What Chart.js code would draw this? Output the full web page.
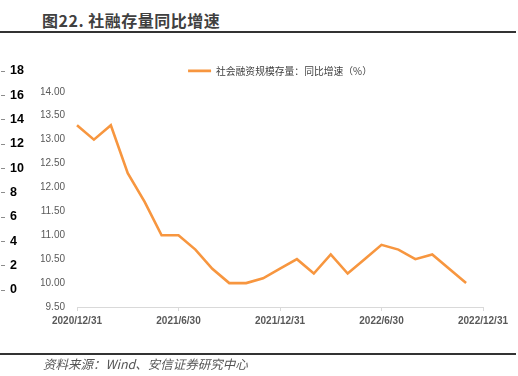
<!DOCTYPE html>
<html>
<head>
<meta charset="utf-8">
<script src="https://cdn.jsdelivr.net/npm/chart.js@4/dist/chart.umd.min.js"></script>
<style>
    html, body { margin: 0; padding: 0; background: #fff; }
    .page { position: relative; width: 518px; height: 376px; overflow: hidden; font-family: "Noto Sans CJK SC", sans-serif; }
    .title { position: absolute; left: 42px; top: 10px; font-size: 16px; line-height: 20px; font-weight: bold; letter-spacing: 0.5px; color: #404040; }
    .rule { position: absolute; left: 0; width: 516px; height: 2px; background: #333; }
    .source { position: absolute; left: 43px; top: 356px; font-size: 12.5px; line-height: 16px; font-style: italic; color: #555; }
    #main_chart { position: absolute; left: 0; top: 0; }
    #side_axis { position: absolute; left: -9px; top: 0; }
</style>
</head>
<body>
<div class="page">
    <div class="title">图22. 社融存量同比增速</div>
    <div class="rule" style="top: 31px"></div>
    <canvas id="main_chart" width="518" height="376"></canvas>
    <canvas id="side_axis" width="40" height="376"></canvas>
    <div class="rule" style="top: 353px"></div>
    <div class="source">资料来源：Wind、安信证券研究中心</div>
</div>
<script>
const dates = [
    '2020/12/31', '2021/1/31', '2021/2/28', '2021/3/31', '2021/4/30', '2021/5/31', '2021/6/30',
    '2021/7/31', '2021/8/31', '2021/9/30', '2021/10/31', '2021/11/30', '2021/12/31',
    '2022/1/31', '2022/2/28', '2022/3/31', '2022/4/30', '2022/5/31', '2022/6/30',
    '2022/7/31', '2022/8/31', '2022/9/30', '2022/10/31', '2022/11/30', '2022/12/31'
]
const growth = [
    13.3, 13.0, 13.3, 12.3, 11.7, 11.0, 11.0,
    10.7, 10.3, 10.0, 10.0, 10.1, 10.3,
    10.5, 10.2, 10.6, 10.2, 10.5, 10.8,
    10.7, 10.5, 10.6, 10.3, 10.0, null
]
const seriesName = '社会融资规模存量：同比增速（%）'
const yTicks = [9.5, 10, 10.5, 11, 11.5, 12, 12.5, 13, 13.5, 14]
const sideTicks = [0, 2, 4, 6, 8, 10, 12, 14, 16, 18]

const tickFont = { family: '"Liberation Sans", Arial, sans-serif', size: 10 }

// a little more room under the legend
const legendGap = {
    id: 'legendGap',
    beforeInit(chart) {
        const fit = chart.legend.fit
        chart.legend.fit = function () {
            fit.bind(chart.legend)()
            this.height += 6
        }
    }
}

// main line chart
new Chart(document.getElementById('main_chart').getContext('2d'), {
    type: 'line',
    data: {
        labels: dates,
        datasets: [{
            label: seriesName,
            data: growth,
            borderColor: '#F7963F',
            backgroundColor: '#F7963F',
            borderWidth: 2.6,
            pointRadius: 0,
            tension: 0,
            spanGaps: false
        }]
    },
    plugins: [legendGap],
    options: {
        responsive: false,
        animation: false,
        layout: { padding: { left: 41, right: 35, top: 58, bottom: 45 } },
        plugins: {
            legend: {
                position: 'top',
                fullSize: false,
                labels: {
                    usePointStyle: true,
                    pointStyle: 'line',
                    pointStyleWidth: 23,
                    padding: 8,
                    color: '#404040',
                    font: { family: '"Noto Sans CJK SC", sans-serif', size: 9.8, lineHeight: 2 }
                }
            },
            tooltip: { enabled: false }
        },
        scales: {
            x: {
                grid: { drawOnChartArea: false, drawTicks: true, tickLength: 4, color: '#D9D9D9' },
                border: { display: true, color: '#D9D9D9', width: 1 },
                afterBuildTicks: (scale) => {
                    scale.ticks = scale.ticks.filter(t => t.value % 6 === 0)
                },
                ticks: {
                    autoSkip: false,
                    maxRotation: 0,
                    padding: 4,
                    color: '#595959',
                    font: { ...tickFont, weight: 'bold' }
                }
            },
            y: {
                min: 9.5,
                max: 14,
                grid: { display: false, drawTicks: false },
                border: { display: false },
                afterBuildTicks: (scale) => {
                    scale.ticks = yTicks.map(v => ({ value: v }))
                },
                afterFit: (scale) => { scale.width = 36 },
                ticks: {
                    padding: 12,
                    color: '#595959',
                    font: tickFont,
                    callback: (v) => Number(v).toFixed(2)
                }
            }
        }
    }
})

// stray axis cut off at the left edge of the picture
new Chart(document.getElementById('side_axis').getContext('2d'), {
    type: 'line',
    data: { labels: [], datasets: [] },
    options: {
        responsive: false,
        animation: false,
        layout: { padding: { left: 0, right: 0, top: 71, bottom: 86 } },
        plugins: { legend: { display: false }, tooltip: { enabled: false } },
        scales: {
            x: { display: false },
            y: {
                position: 'left',
                min: 0,
                max: 18,
                grid: { drawOnChartArea: false, drawTicks: true, tickLength: 4, color: '#8C8C8C' },
                border: { display: false },
                afterBuildTicks: (scale) => {
                    scale.ticks = sideTicks.map(v => ({ value: v }))
                },
                ticks: {
                    mirror: true,
                    padding: 5,
                    color: '#000',
                    font: { family: '"Liberation Sans", Arial, sans-serif', size: 12.5, weight: 'bold' }
                }
            }
        }
    }
})
</script>
</body>
</html>
